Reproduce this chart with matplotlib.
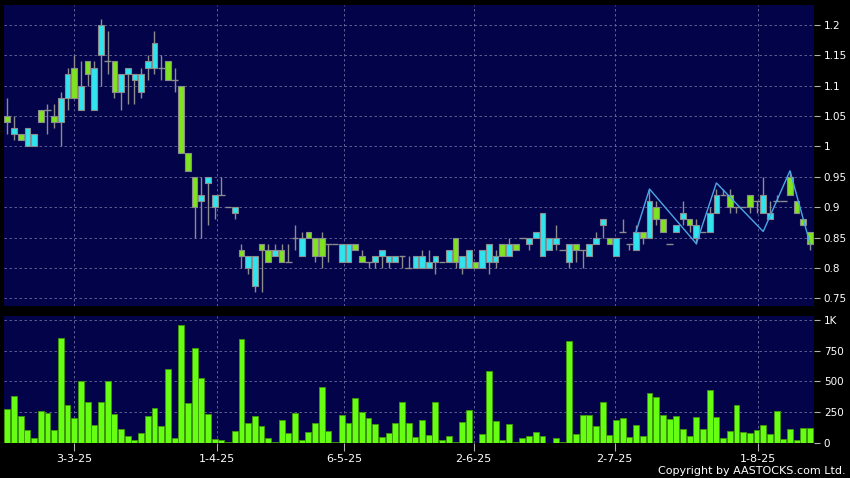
import matplotlib
matplotlib.use("Agg")
import matplotlib.pyplot as plt
import numpy as np

# daily candles (trading-day index 0..120)
opens = [1.05, 1.02, 1.02, 1.00, 1.00, 1.06, 1.06, 1.05, 1.04, 1.08,
         1.13, 1.06, 1.14, 1.06, 1.15, 1.14, 1.14, 1.09, 1.12, 1.11,
         1.09, 1.13, 1.13, 1.13, 1.14, 1.11, 1.10, 0.99, 0.95, 0.91,
         0.94, 0.90, 0.92, 0.90, 0.89, 0.83, 0.80, 0.77, 0.84, 0.83,
         0.82, 0.83, 0.81, 0.85, 0.82, 0.86, 0.85, 0.85, 0.84, 0.84,
         0.81, 0.81, 0.84, 0.82, 0.81, 0.81, 0.82, 0.81, 0.81, 0.82,
         0.80, 0.80, 0.80, 0.80, 0.81, 0.81, 0.81, 0.85, 0.80, 0.80,
         0.81, 0.80, 0.81, 0.81, 0.84, 0.82, 0.84, 0.85, 0.84, 0.85,
         0.82, 0.83, 0.84, 0.83, 0.81, 0.84, 0.83, 0.82, 0.84, 0.87,
         0.85, 0.82, 0.86, 0.84, 0.83, 0.86, 0.85, 0.90, 0.88, 0.84,
         0.86, 0.88, 0.88, 0.85, 0.86, 0.86, 0.89, 0.92, 0.92, 0.90,
         0.90, 0.92, 0.91, 0.89, 0.88, 0.91, 0.91, 0.95, 0.91, 0.88,
         0.86]
highs = [1.08, 1.05, 1.02, 1.03, 1.02, 1.06, 1.07, 1.07, 1.09, 1.13,
         1.15, 1.14, 1.14, 1.14, 1.21, 1.19, 1.14, 1.12, 1.13, 1.12,
         1.13, 1.15, 1.19, 1.15, 1.14, 1.13, 1.10, 0.99, 0.95, 0.95,
         0.95, 0.92, 0.95, 0.90, 0.90, 0.84, 0.82, 0.82, 0.84, 0.84,
         0.84, 0.84, 0.84, 0.87, 0.86, 0.86, 0.85, 0.86, 0.84, 0.84,
         0.84, 0.84, 0.84, 0.83, 0.81, 0.82, 0.83, 0.82, 0.82, 0.82,
         0.82, 0.82, 0.83, 0.83, 0.82, 0.81, 0.83, 0.85, 0.82, 0.83,
         0.81, 0.83, 0.84, 0.83, 0.84, 0.85, 0.84, 0.85, 0.85, 0.86,
         0.89, 0.85, 0.87, 0.83, 0.84, 0.84, 0.83, 0.84, 0.86, 0.88,
         0.85, 0.85, 0.88, 0.84, 0.87, 0.86, 0.93, 0.91, 0.88, 0.84,
         0.87, 0.91, 0.88, 0.88, 0.86, 0.90, 0.93, 0.93, 0.93, 0.90,
         0.90, 0.92, 0.91, 0.95, 0.91, 0.92, 0.91, 0.96, 0.91, 0.88,
         0.86]
lows = [1.02, 1.01, 1.01, 1.00, 1.00, 1.04, 1.02, 1.03, 1.00, 1.06,
        1.08, 1.06, 1.10, 1.06, 1.10, 1.12, 1.08, 1.06, 1.07, 1.07,
        1.08, 1.11, 1.12, 1.11, 1.11, 1.09, 0.99, 0.96, 0.85, 0.85,
        0.87, 0.88, 0.92, 0.90, 0.88, 0.80, 0.79, 0.76, 0.76, 0.81,
        0.82, 0.81, 0.81, 0.83, 0.82, 0.85, 0.81, 0.80, 0.81, 0.84,
        0.81, 0.81, 0.83, 0.81, 0.80, 0.80, 0.80, 0.80, 0.81, 0.80,
        0.80, 0.80, 0.80, 0.80, 0.79, 0.81, 0.81, 0.80, 0.79, 0.80,
        0.80, 0.80, 0.79, 0.80, 0.82, 0.82, 0.83, 0.85, 0.83, 0.85,
        0.82, 0.83, 0.83, 0.83, 0.80, 0.81, 0.80, 0.82, 0.84, 0.85,
        0.84, 0.82, 0.86, 0.83, 0.83, 0.84, 0.85, 0.87, 0.86, 0.84,
        0.86, 0.87, 0.86, 0.84, 0.86, 0.86, 0.89, 0.92, 0.89, 0.89,
        0.90, 0.89, 0.89, 0.89, 0.88, 0.91, 0.91, 0.92, 0.89, 0.87,
        0.83]
closes = [1.04, 1.03, 1.01, 1.03, 1.02, 1.04, 1.06, 1.04, 1.08, 1.12,
          1.08, 1.10, 1.12, 1.13, 1.20, 1.14, 1.09, 1.12, 1.13, 1.12,
          1.12, 1.14, 1.17, 1.13, 1.11, 1.11, 0.99, 0.96, 0.90, 0.92,
          0.95, 0.92, 0.92, 0.90, 0.90, 0.82, 0.82, 0.82, 0.83, 0.81,
          0.83, 0.81, 0.81, 0.85, 0.85, 0.85, 0.82, 0.82, 0.84, 0.84,
          0.84, 0.84, 0.83, 0.81, 0.81, 0.82, 0.83, 0.82, 0.82, 0.82,
          0.80, 0.82, 0.82, 0.81, 0.82, 0.81, 0.83, 0.81, 0.82, 0.83,
          0.80, 0.83, 0.84, 0.82, 0.82, 0.84, 0.83, 0.85, 0.85, 0.86,
          0.89, 0.85, 0.85, 0.83, 0.84, 0.83, 0.83, 0.84, 0.85, 0.88,
          0.84, 0.85, 0.86, 0.84, 0.86, 0.85, 0.91, 0.88, 0.86, 0.84,
          0.87, 0.89, 0.87, 0.87, 0.86, 0.89, 0.92, 0.92, 0.90, 0.90,
          0.90, 0.90, 0.91, 0.92, 0.89, 0.91, 0.91, 0.92, 0.89, 0.87,
          0.84]

# volume in thousands of shares
volumes = [278, 378, 222, 108, 41, 262, 246, 108, 857, 311,
           200, 503, 330, 146, 335, 503, 235, 116, 59, 27,
           84, 216, 284, 141, 605, 41, 959, 327, 773, 530,
           238, 35, 22, 8, 97, 849, 159, 219, 138, 43,
           8, 189, 81, 243, 27, 86, 159, 457, 100, 5,
           227, 159, 365, 254, 200, 157, 51, 81, 162, 332,
           159, 46, 189, 62, 330, 27, 54, 5, 168, 270,
           2, 70, 584, 181, 27, 157, 11, 41, 54, 89,
           54, 1, 41, 5, 832, 76, 224, 224, 138, 335,
           65, 186, 200, 51, 146, 57, 408, 373, 224, 197,
           219, 116, 59, 214, 116, 427, 214, 43, 97, 305,
           89, 78, 105, 143, 70, 259, 30, 116, 22, 124,
           124]

# zig-zag overlay (index, price)
zz_idx = [94, 96, 103, 106, 113, 117, 120]
zz_val = [0.86, 0.93, 0.84, 0.94, 0.86, 0.96, 0.84]

date_pos = [10, 31.3, 50.4, 69.7, 90.8, 112.2]
date_labels = ["3-3-25", "1-4-25", "6-5-25", "2-6-25", "2-7-25", "1-8-25"]

price_ticks = [0.75, 0.8, 0.85, 0.9, 0.95, 1.0, 1.05, 1.1, 1.15, 1.2]
price_labels = ["0.75", "0.8", "0.85", "0.9", "0.95", "1", "1.05", "1.1", "1.15", "1.2"]
vol_ticks = [0, 250, 500, 750, 1000]
vol_labels = ["0", "250", "500", "750", "1K"]

BG = "#03034a"
UP = "#2fe4ef"
DOWN = "#7fe31f"
EDGE = "#8c8c8c"
GRID = "#6c6ca0"

o = np.array(opens)
c = np.array(closes)
x = np.arange(len(opens))

fig = plt.figure(figsize=(8.5, 4.78), dpi=100, facecolor="black")
ax = fig.add_axes([0.0047, 0.3588, 0.953, 0.6307], facecolor=BG)
axv = fig.add_axes([0.0047, 0.0732, 0.953, 0.2657], facecolor=BG)

# wicks
ax.vlines(x, lows, highs, color=EDGE, linewidth=1, zorder=2)

# bodies (doji drawn as a flat line)
body = np.abs(c - o)
is_doji = body < 1e-6
colors = np.where(c > o, UP, DOWN)
ax.bar(x[~is_doji], body[~is_doji], bottom=np.minimum(o, c)[~is_doji], width=0.85,
       color=colors[~is_doji], edgecolor=EDGE, linewidth=0.8, zorder=3)
ax.hlines(c[is_doji], x[is_doji] - 0.5, x[is_doji] + 0.5, color=EDGE, linewidth=1, zorder=3)

ax.plot(zz_idx, zz_val, color="#4aa6e6", linewidth=1, zorder=4)

# volume
axv.bar(x, volumes, width=0.88, color="#66ff14", edgecolor="#3f9a08", linewidth=0.6, zorder=3)

for a in (ax, axv):
    a.set_xlim(-0.5, 120.6)
    a.set_xticks(date_pos)
    a.yaxis.tick_right()
    a.grid(True, color=GRID, linestyle=(0, (3, 3)), linewidth=0.6, zorder=1)
    a.set_axisbelow(True)
    for s in a.spines.values():
        s.set_visible(False)
    a.tick_params(axis="y", colors="#b0b0b0", labelcolor="white", length=4, width=0.8,
                  pad=3, labelsize=7.5, direction="out")

ax.set_ylim(0.7365, 1.233)
ax.set_yticks(price_ticks)
ax.set_yticklabels(price_labels)
ax.tick_params(axis="x", bottom=False, labelbottom=False)

axv.set_ylim(0, 1032)
axv.set_yticks(vol_ticks)
axv.set_yticklabels(vol_labels)
axv.set_xticklabels(date_labels)
axv.tick_params(axis="x", colors="#b0b0b0", labelcolor="white", length=6, width=0.8,
                labelsize=8, pad=2)

fig.text(0.995, 0.004, "Copyright by AASTOCKS.com Ltd.", color="white", fontsize=8,
         ha="right", va="bottom")

fig.savefig("out.png", dpi=100, facecolor="black")
